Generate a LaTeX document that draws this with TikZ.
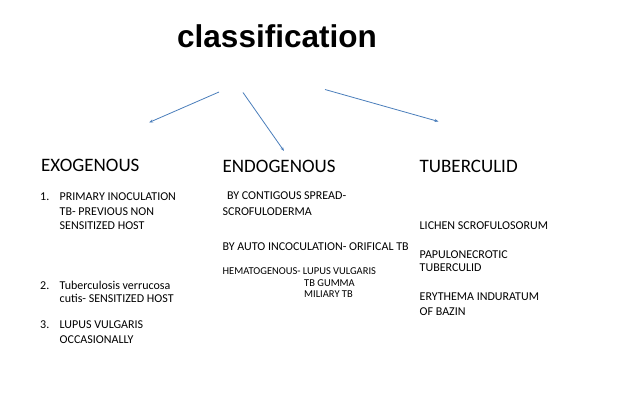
\documentclass[tikz,border=0pt]{standalone}
\usepackage{fontspec}
\setmainfont{Carlito}
\newfontfamily\titlefont{Liberation Sans}
\usetikzlibrary{arrows.meta}
\definecolor{arrowblue}{HTML}{4A7EBB}
\begin{document}
\begin{tikzpicture}[x=1pt,y=-1pt,
  every node/.style={inner sep=0pt,anchor=base west},
  ttl/.style={font=\titlefont\bfseries\fontsize{31.5}{36}\selectfont,anchor=base},
  head/.style={font=\fontsize{19}{23}\selectfont},
  item/.style={font=\fontsize{12}{14}\selectfont},
  smallitem/.style={font=\fontsize{10.5}{12}\selectfont},
  conn/.style={draw=arrowblue,line width=0.8pt,-{Stealth[length=4pt,width=3pt]}}]
\useasboundingbox[fill=white] (0,0) rectangle (638,406);
% title
\node[ttl] (title) at (277,48) {classification};
% arrows
\coordinate (s1) at (219,92);
\coordinate (t1) at (149,122.5);
\coordinate (s2) at (243,92.5);
\coordinate (t2) at (284,151);
\coordinate (s3) at (325,89.5);
\coordinate (t3) at (438.5,121.5);
\draw[conn] (s1) -- (t1);
\draw[conn] (s2) -- (t2);
\draw[conn] (s3) -- (t3);
% headings
\node[head] (exo) at (41,171.5) {EXOGENOUS};
\node[head] (endo) at (222.5,173) {ENDOGENOUS};
\node[head] (tub) at (419.5,173) {TUBERCULID};
% exogenous
\node[item] (n1) at (40,201) {1.};
\node[item] (e1a) at (59.5,201) {PRIMARY INOCULATION};
\node[item] (e1b) at (59.5,215.5) {TB- PREVIOUS NON};
\node[item] (e1c) at (59.5,230) {SENSITIZED HOST};
\node[item] (n2) at (40,289.5) {2.};
\node[item] (e2a) at (59.5,289.5) {Tuberculosis verrucosa};
\node[item] (e2b) at (59.5,303) {cutis- SENSITIZED HOST};
\node[item] (n3) at (40,329) {3.};
\node[item] (e3a) at (59.5,329) {LUPUS VULGARIS};
\node[item] (e3b) at (59.5,344) {OCCASIONALLY};
% endogenous
\node[item] (d1a) at (227,199.5) {BY CONTIGOUS SPREAD-};
\node[item] (d1b) at (222.5,215.5) {SCROFULODERMA};
\node[item] (d2) at (222.5,250.5) {BY AUTO INCOCULATION- ORIFICAL TB};
\node[smallitem] (d3a) at (222.5,275) {HEMATOGENOUS- LUPUS VULGARIS};
\node[smallitem] (d3b) at (304,286.5) {TB GUMMA};
\node[smallitem] (d3c) at (304,297.5) {MILIARY TB};
% tuberculid
\node[item] (t1a) at (419.5,229.5) {LICHEN SCROFULOSORUM};
\node[item] (t2a) at (419.5,258.5) {PAPULONECROTIC};
\node[item] (t2b) at (419.5,272) {TUBERCULID};
\node[item] (t3a) at (419.5,301) {ERYTHEMA INDURATUM};
\node[item] (t3b) at (419.5,316) {OF BAZIN};
\end{tikzpicture}
\end{document}
